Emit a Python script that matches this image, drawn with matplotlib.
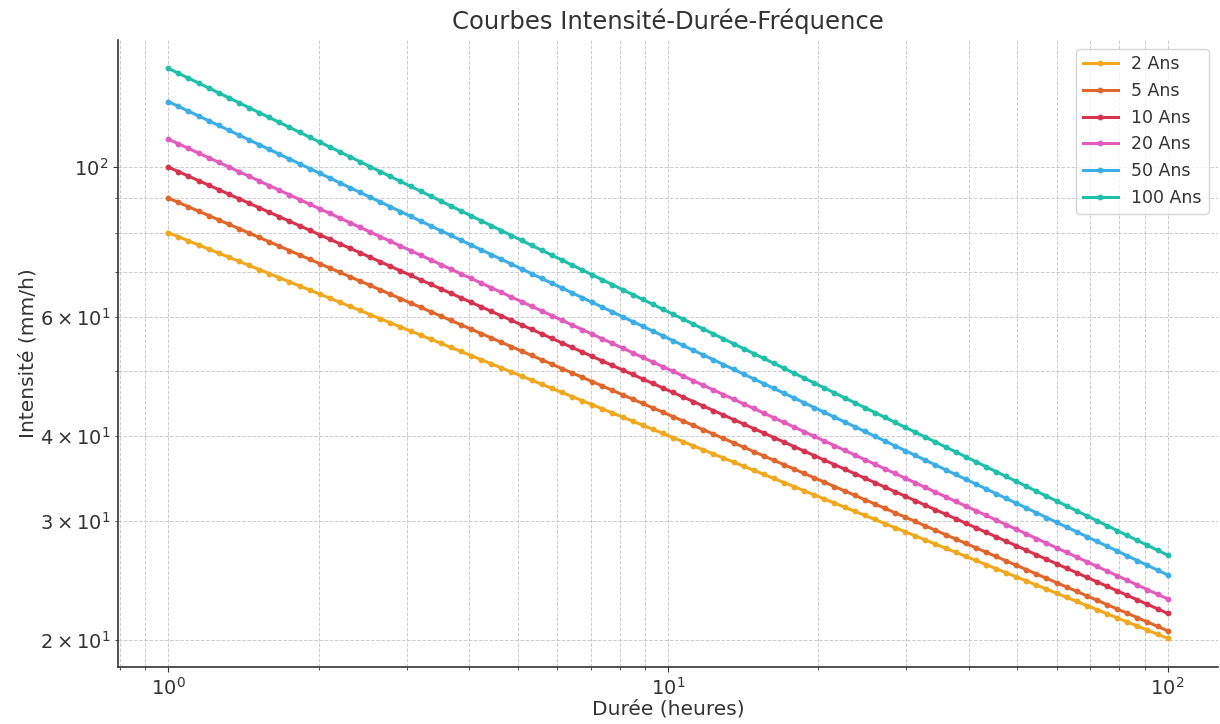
import numpy as np
import matplotlib
matplotlib.use("Agg")
import matplotlib.pyplot as plt

# Return periods and IDF parameters (I = a * t^-b)
labels = ["2 Ans", "5 Ans", "10 Ans", "20 Ans", "50 Ans", "100 Ans"]
intensity_1h = [80, 90, 100, 110, 125, 140]          # intensity at t = 1 h
exponents = [0.30, 0.32, 0.33, 0.34, 0.35, 0.36]     # slope of the log-log lines
durations = np.logspace(0, 2, 100)                    # hours
colors = ["#F0A81E", "#E0672C", "#D5334F", "#E25CBE", "#3BAEE6", "#1FBFAA"]

fig, ax = plt.subplots(figsize=(12.2, 7.24), dpi=100)
fig.subplots_adjust(left=0.097, right=0.998, top=0.945, bottom=0.079)

for lab, a, b, c in zip(labels, intensity_1h, exponents, colors):
    ax.plot(durations, a * durations ** (-b), marker="o", markersize=3.2,
            linewidth=2.2, color=c, label=lab)

ax.set_xscale("log")
ax.set_yscale("log")
ax.set_title("Courbes Intensité-Durée-Fréquence", fontsize=17.5, color="#333333", pad=8)
ax.set_xlabel("Durée (heures)", fontsize=14.5, color="#333333", labelpad=1)
ax.set_ylabel("Intensité (mm/h)", fontsize=14.5, color="#333333", labelpad=2)
ax.tick_params(axis="both", which="both", labelsize=14, colors="#333333")
ax.grid(True, which="both", linestyle="--", linewidth=0.7, color="#cccccc")
for s in ["top", "right"]:
    ax.spines[s].set_visible(False)
for s in ["left", "bottom"]:
    ax.spines[s].set_color("#333333")
    ax.spines[s].set_linewidth(1.2)
leg = ax.legend(loc="upper right", fontsize=12.5, frameon=True)
for t in leg.get_texts():
    t.set_color("#333333")

fig.savefig("out.png", dpi=100)
